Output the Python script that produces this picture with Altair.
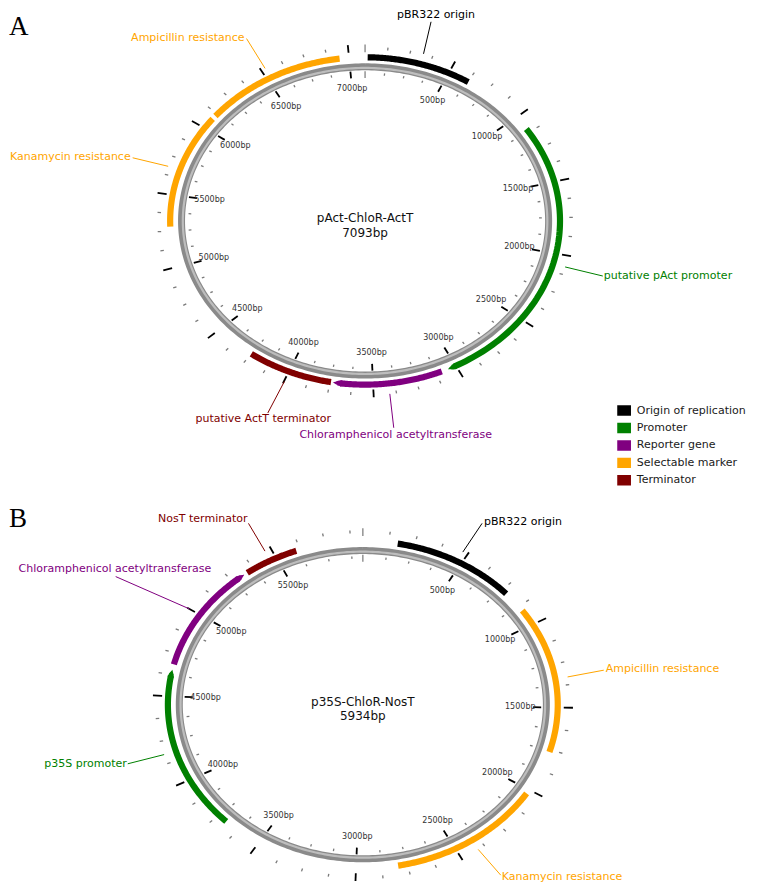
import altair as alt
import numpy as np
import pandas as pd

# ---------------- data ----------------
plasmid_names = ["pAct-ChloR-ActT", "p35S-ChloR-NosT"]
plasmid_lengths = [7093, 5934]
panel_letters = ["A", "B"]

a_features = ["pBR322 origin", "putative pAct promoter", "Chloramphenicol acetyltransferase",
              "putative ActT terminator", "Kanamycin resistance", "Ampicillin resistance"]
a_types = ["Origin of replication", "Promoter", "Reporter gene", "Terminator",
           "Selectable marker", "Selectable marker"]
a_start = [15, 1100, 3090, 3745, 5280, 6105]
a_end = [630, 3050, 3733, 4250, 6080, 6945]
a_arrow = [False, True, True, False, False, False]

b_features = ["pBR322 origin", "Ampicillin resistance", "Kanamycin resistance",
              "p35S promoter", "Chloramphenicol acetyltransferase", "NosT terminator"]
b_types = ["Origin of replication", "Selectable marker", "Selectable marker",
           "Promoter", "Reporter gene", "Terminator"]
b_start = [170, 905, 2025, 3700, 4685, 5335]
b_end = [780, 1760, 2795, 4652, 5315, 5605]
b_arrow = [False, False, False, True, True, False]

legend_types = ["Origin of replication", "Promoter", "Reporter gene", "Selectable marker", "Terminator"]
legend_colors = ["#000000", "#008000", "#800080", "#FFA500", "#800000"]

major_step = 500
minor_step = 125

# ---------------- layout (reference-picture coordinates) ----------------
W, H = 744, 877
X_DOMAIN = [2, 760]
Y_DOMAIN = [2, 892]
RX, RY = 187.0, 156.4
CENTERS = [(365.8, 218.1), (363.5, 709.0)]
R_FEAT = 1.062
FEAT_W = 6.2
R_LEAD = 1.13
TIP_FRAC = 0.038  # radians of arrow tip

# label layout: (text_x, text_y, align, leader_end_x, leader_end_y)
LABEL_LAYOUT = [
    [(438, 9, "center", 433, 16), (609, 274, "left", 608, 274),
     (397, 435, "center", 395, 428), (262, 419, "center", 266.7, 413),
     (127, 153, "right", 129, 154), (243, 32, "right", 245, 33)],
    [(487, 523.3, "left", 485, 525), (611, 673.3, "left", 609, 674),
     (505, 884, "left", 504, 882), (123, 769.3, "right", 124, 769),
     (209, 571.7, "right", 111.7, 579), (246, 521, "right", 247, 525)],
]
LETTER_POS = [(3, 29), (3, 529)]
LEGEND_X, LEGEND_Y0, LEGEND_DY = 622.7, 410.5, 17.7


def pt(panel, bp, r):
    cx, cy = CENTERS[panel]
    L = plasmid_lengths[panel]
    th = 2 * np.pi * np.asarray(bp, dtype=float) / L
    return cx + r * RX * np.sin(th), cy - r * RY * np.cos(th)


panels = [
    (a_features, a_types, a_start, a_end, a_arrow),
    (b_features, b_types, b_start, b_end, b_arrow),
]

ring_rows, hl_rows, body_rows, tip_rows = [], [], [], []
tick_rows, ticklab_rows, lab_rows, lead_rows, center_rows = [], [], [], [], []

for p, (names, types, starts, ends, arrows) in enumerate(panels):
    L = plasmid_lengths[p]
    s = np.linspace(0, L, 361)
    x, y = pt(p, s, 1.0)
    for i in range(len(s)):
        ring_rows.append(dict(x=x[i], y=y[i], g=f"ring{p}", o=i))
    x, y = pt(p, s, 0.993)
    for i in range(len(s)):
        hl_rows.append(dict(x=x[i], y=y[i], g=f"hl{p}", o=i))

    for k, (nm, tp, st, en, ar) in enumerate(zip(names, types, starts, ends, arrows)):
        fid = f"{p}_{k}"
        tip_bp = TIP_FRAC / (2 * np.pi) * L
        body_end = en - tip_bp if ar else en
        bs = np.linspace(st, body_end, 80)
        x, y = pt(p, bs, R_FEAT)
        for i in range(len(bs)):
            body_rows.append(dict(x=x[i], y=y[i], fid=fid, type=tp, o=i))
        if ar:
            ts = np.linspace(body_end, en, 8)
            ws = np.linspace(FEAT_W, 0.3, 8)
            x, y = pt(p, ts, R_FEAT)
            for i in range(len(ts)):
                tip_rows.append(dict(x=x[i], y=y[i], fid=fid, type=tp, o=i, w=ws[i]))
        tx, ty, al, ex, ey = LABEL_LAYOUT[p][k]
        lab_rows.append(dict(x=tx, y=ty, text=nm, type=tp, align=al))
        mx, my = pt(p, (st + en) / 2, R_LEAD)
        lead_rows.append(dict(x=float(mx), y=float(my), x2=ex, y2=ey, type=tp))

    for bp in range(0, L, minor_step):
        if bp == 0:
            kind = "zero"
        elif bp % major_step == 0:
            kind = "major"
        else:
            kind = "minor"
        if kind == "minor":
            spans = [(1.113, 1.132), (0.948, 0.963)]
        else:
            spans = [(1.095, 1.145), (0.928, 0.972)]
        for r1, r2 in spans:
            x1, y1 = pt(p, bp, r1)
            x2, y2 = pt(p, bp, r2)
            tick_rows.append(dict(x=float(x1), y=float(y1), x2=float(x2), y2=float(y2), kind=kind))
        if kind == "major":
            lx, ly = pt(p, bp, 0.858)
            ticklab_rows.append(dict(x=float(lx), y=float(ly), text=f"{bp}bp"))

    cx, cy = CENTERS[p]
    center_rows.append(dict(x=cx, y=cy - 3, text=plasmid_names[p]))
    center_rows.append(dict(x=cx, y=cy + 12, text=f"{L}bp"))

letter_rows = [dict(x=LETTER_POS[i][0], y=LETTER_POS[i][1], text=panel_letters[i]) for i in range(2)]
legend_rows = [dict(x=LEGEND_X, x2=LEGEND_X + 14,
                    y=LEGEND_Y0 + i * LEGEND_DY - 5.3, y2=LEGEND_Y0 + i * LEGEND_DY + 5.3,
                    tx=LEGEND_X + 20, ty=LEGEND_Y0 + i * LEGEND_DY, type=t)
               for i, t in enumerate(legend_types)]

# ---------------- chart ----------------
xs = alt.Scale(domain=X_DOMAIN, nice=False, zero=False)
ys = alt.Scale(domain=Y_DOMAIN, nice=False, zero=False, reverse=True)
cscale = alt.Scale(domain=legend_types, range=legend_colors)
X = alt.X("x:Q", scale=xs, axis=None)
Y = alt.Y("y:Q", scale=ys, axis=None)
COL = alt.Color("type:N", scale=cscale, legend=None)

ring = alt.Chart(pd.DataFrame(ring_rows)).mark_line(
    strokeWidth=7, color="#8a8a8a", strokeCap="butt").encode(X, Y, detail="g:N", order="o:Q")
hl = alt.Chart(pd.DataFrame(hl_rows)).mark_line(
    strokeWidth=2.2, color="#bdbdbd", strokeCap="butt").encode(X, Y, detail="g:N", order="o:Q")

body = alt.Chart(pd.DataFrame(body_rows)).mark_line(
    strokeWidth=FEAT_W, strokeCap="butt").encode(X, Y, COL, detail="fid:N", order="o:Q")
tips = alt.Chart(pd.DataFrame(tip_rows)).mark_trail().encode(
    X, Y, COL, detail="fid:N", order="o:Q", size=alt.Size("w:Q", scale=None, legend=None))

tdf = pd.DataFrame(tick_rows)
tick_enc = dict(x=X, y=Y, x2="x2:Q", y2="y2:Q")
major = alt.Chart(tdf).transform_filter("datum.kind == 'major'").mark_rule(
    color="#000000", strokeWidth=1.8).encode(**tick_enc)
minor = alt.Chart(tdf).transform_filter("datum.kind == 'minor'").mark_rule(
    color="#7a7a7a", strokeWidth=1.3).encode(**tick_enc)
zero = alt.Chart(tdf).transform_filter("datum.kind == 'zero'").mark_rule(
    color="#9a9a9a", strokeWidth=1.6).encode(**tick_enc)

ticklabs = alt.Chart(pd.DataFrame(ticklab_rows)).mark_text(
    font="DejaVu Sans", fontSize=8, color="#333333", align="center", baseline="middle"
).encode(X, Y, text="text:N")

leaders = alt.Chart(pd.DataFrame(lead_rows)).mark_rule(strokeWidth=1).encode(
    X, Y, x2="x2:Q", y2="y2:Q", color=COL)

ldf = pd.DataFrame(lab_rows)
lab_layers = []
for al in ["left", "right", "center"]:
    lab_layers.append(
        alt.Chart(ldf).transform_filter(f"datum.align == '{al}'").mark_text(
            font="DejaVu Sans", fontSize=11, align=al, baseline="middle"
        ).encode(X, Y, COL, text="text:N"))

centers = alt.Chart(pd.DataFrame(center_rows)).mark_text(
    font="DejaVu Sans", fontSize=12, color="#111111", align="center", baseline="middle"
).encode(X, Y, text="text:N")

letters = alt.Chart(pd.DataFrame(letter_rows)).mark_text(
    font="Liberation Serif", fontSize=27, color="#000000", align="left", baseline="alphabetic"
).encode(X, Y, text="text:N")

legdf = pd.DataFrame(legend_rows)
leg_sq = alt.Chart(legdf).mark_rect().encode(X, Y, x2="x2:Q", y2="y2:Q", color=COL)
leg_tx = alt.Chart(legdf).mark_text(
    font="DejaVu Sans", fontSize=11, color="#1a1a1a", align="left", baseline="middle"
).encode(x=alt.X("tx:Q", scale=xs, axis=None), y=alt.Y("ty:Q", scale=ys, axis=None), text="type:N")

chart = alt.layer(
    ring, hl, zero, minor, major, ticklabs, body, tips, leaders, *lab_layers,
    centers, letters, leg_sq, leg_tx
).properties(width=W, height=H, padding=0, autosize="none").configure_view(stroke=None)

chart.save("out.html", embed_options={"renderer": "svg", "actions": False})
